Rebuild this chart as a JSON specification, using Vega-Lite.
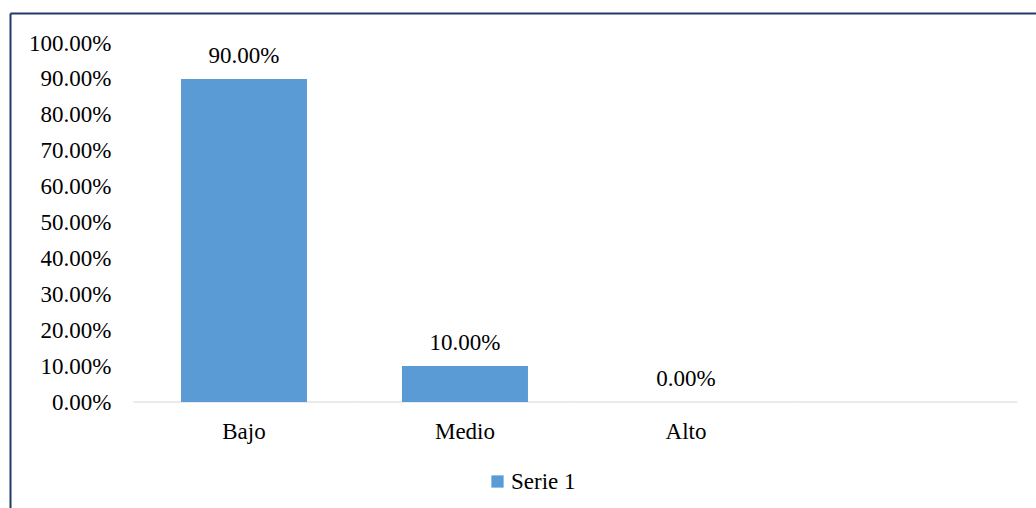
{
  "$schema": "https://vega.github.io/schema/vega-lite/v6.json",
  "width": 1026,
  "height": 495,
  "padding": {"left": 10, "top": 13, "right": 0, "bottom": 0},
  "autosize": {"type": "none"},
  "background": "white",
  "config": {
    "view": {"stroke": null},
    "font": "Liberation Serif"
  },
  "datasets": {
    "main": [
      {"cat": "Bajo", "v": 0.9, "serie": "Serie 1"},
      {"cat": "Medio", "v": 0.1, "serie": "Serie 1"},
      {"cat": "Alto", "v": 0.0, "serie": "Serie 1"}
    ],
    "cats": [{"cat": "Bajo"}, {"cat": "Medio"}, {"cat": "Alto"}, {"cat": " "}]
  },
  "resolve": {"axis": {"x": "independent", "y": "independent"}},
  "layer": [
    {
      "data": {"name": "cats"},
      "mark": {"type": "tick", "orient": "horizontal", "size": 221, "thickness": 1.5, "color": "#d9d9d9"},
      "encoding": {
        "x": {
          "field": "cat", "type": "nominal", "sort": null,
          "scale": {"domain": ["Bajo", "Medio", "Alto", " "], "paddingInner": 0.43, "paddingOuter": 0.5362, "align": 0.7215},
          "axis": {"orient": "top", "offset": 0, "domain": true, "domainColor": "#1f3864", "domainWidth": 2, "labels": false, "ticks": false, "grid": false, "title": null}
        },
        "y": {
          "datum": 0, "type": "quantitative",
          "scale": {"domain": [-0.29526, 1.08357], "nice": false, "zero": false},
          "axis": {"orient": "left", "offset": 0, "domain": true, "domainColor": "#1f3864", "domainWidth": 2, "labels": false, "ticks": false, "grid": false, "title": null}
        }
      }
    },
    {
      "data": {"name": "main"},
      "mark": {"type": "bar"},
      "encoding": {
        "x": {
          "field": "cat", "type": "nominal", "sort": null,
          "axis": {"orient": "bottom", "offset": -106, "domain": false, "ticks": false, "grid": false, "title": null, "labelFont": "Liberation Serif", "labelFontSize": 23, "labelColor": "#000000", "labelPadding": 18, "labelAngle": 0}
        },
        "y": {
          "field": "v", "type": "quantitative",
          "axis": {"orient": "left", "offset": -125, "values": [0, 0.1, 0.2, 0.3, 0.4, 0.5, 0.6, 0.7, 0.8, 0.9, 1.0], "format": ".2%", "domain": false, "ticks": false, "grid": false, "title": null, "labelFont": "Liberation Serif", "labelFontSize": 23, "labelColor": "#000000", "labelPadding": 24}
        },
        "y2": {"datum": 0},
        "color": {
          "field": "serie", "type": "nominal",
          "scale": {"range": ["#5b9bd5"]},
          "legend": {"orient": "none", "legendX": 476, "legendY": 457, "title": null, "symbolType": "square", "symbolSize": 150, "symbolStrokeWidth": 0, "labelFont": "Liberation Serif", "labelFontSize": 23, "labelColor": "#000000", "padding": 0, "labelOffset": 2}
        }
      }
    },
    {
      "data": {"name": "main"},
      "mark": {"type": "text", "font": "Liberation Serif", "fontSize": 23, "color": "#000000", "baseline": "alphabetic", "dy": -16},
      "encoding": {
        "x": {"field": "cat", "type": "nominal", "sort": null, "axis": null},
        "y": {"field": "v", "type": "quantitative", "axis": null},
        "text": {"field": "v", "type": "quantitative", "format": ".2%"}
      }
    }
  ]
}
